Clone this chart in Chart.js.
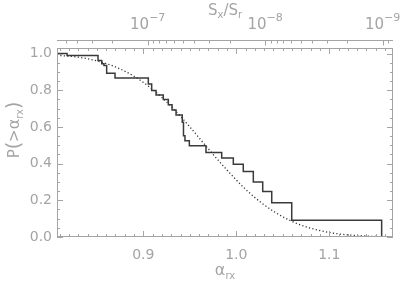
<!DOCTYPE html>
<html>
<head>
<meta charset="utf-8">
<script src="https://cdn.jsdelivr.net/npm/chart.js@4/dist/chart.umd.min.js"></script>
<style>
html, body { margin: 0; padding: 0; background: #fff; }
#wrap { width: 400px; height: 285px; }
</style>
</head>
<body>
<div id="wrap"><canvas id="cdf"></canvas></div>
<script>
// observed P(>alpha_rx): each level starts at its alpha and holds to the next one
var alphaObs = [0.8073, 0.818, 0.8513, 0.8553, 0.8577, 0.8606, 0.8696, 0.9054, 0.909, 0.9137,
                0.9215, 0.9269, 0.9309, 0.9352, 0.9419, 0.9432, 0.9448, 0.9495, 0.9674, 0.9843,
                0.9968, 1.0075, 1.0183, 1.0284, 1.0381, 1.0596, 1.1563];
var probObs = [1.0, 0.989, 0.962, 0.944, 0.934, 0.893, 0.867, 0.834, 0.798, 0.774,
               0.750, 0.721, 0.692, 0.665, 0.625, 0.552, 0.525, 0.497, 0.461, 0.430,
               0.397, 0.357, 0.300, 0.248, 0.186, 0.091, 0.0];

// dotted model curve
var alphaModel = [0.807, 0.83, 0.85, 0.87, 0.89, 0.91, 0.93, 0.95, 0.97, 0.99,
                  1.01, 1.03, 1.05, 1.07, 1.09, 1.11, 1.13, 1.15, 1.1685];
var probModel = [0.99, 0.98, 0.96, 0.927, 0.876, 0.804, 0.712, 0.6, 0.48, 0.365,
                 0.26, 0.175, 0.11, 0.064, 0.035, 0.017, 0.008, 0.003, 0.001];

// tick labels
var alphaTicks = [0.9, 1.0, 1.1];
var probTicks = [0, 0.2, 0.4, 0.6, 0.8, 1.0];
var ratioTicks = [1e-7, 1e-8, 1e-9];
var ratioExp = ['\u22127', '\u22128', '\u22129'];

var grey = '#a4a4a4';
var fam = 'DejaVu Sans';

function line(ctx, x1, y1, x2, y2) {
  ctx.beginPath();
  ctx.moveTo(x1, y1);
  ctx.lineTo(x2, y2);
  ctx.stroke();
}

// text made of pieces with sub/superscripts, centred on cx
function parts(ctx, list, cx, y) {
  var w = 0;
  list.forEach(function (p) {
    ctx.font = p[1] + 'px "' + fam + '"';
    w += ctx.measureText(p[0]).width;
  });
  var x = cx - w / 2;
  list.forEach(function (p) {
    ctx.font = p[1] + 'px "' + fam + '"';
    ctx.fillText(p[0], x, y + p[2]);
    x += ctx.measureText(p[0]).width;
  });
}

var frame = {
  id: 'frame',
  afterDraw: function (chart) {
    var ctx = chart.ctx, a = chart.chartArea;
    var sx = chart.scales.x, sy = chart.scales.y, s2 = chart.scales.x2;
    ctx.save();
    ctx.strokeStyle = grey;
    ctx.lineWidth = 1;
    ctx.strokeRect(a.left + 0.5, a.top + 0.5, a.right - a.left - 1, a.bottom - a.top - 1);

    // alpha ticks, bottom and top of the box
    for (var i = 81; i <= 116; i++) {
      var px = Math.round(sx.getPixelForValue(i / 100)) + 0.5;
      var len = i % 10 === 0 ? 6 : 3;
      line(ctx, px, a.bottom, px, a.bottom - len);
      line(ctx, px, a.top, px, a.top + len);
    }
    // probability ticks, left and right
    for (var j = 0; j <= 20; j++) {
      var py = Math.round(sy.getPixelForValue(j * 0.05)) + 0.5;
      var l2 = j % 4 === 0 ? 6 : 3;
      line(ctx, a.left, py, a.left + l2, py);
      line(ctx, a.right, py, a.right - l2, py);
    }

    // top axis: Sx/Sr
    var ty = a.top - 8 + 0.5;
    line(ctx, a.left, ty, a.right, ty);
    for (var e = -10; e <= -6; e++) {
      for (var k = 1; k <= 9; k++) {
        var v = k * Math.pow(10, e);
        if (v < s2.min || v > s2.max) continue;
        var qx = Math.round(s2.getPixelForValue(v)) + 0.5;
        line(ctx, qx, ty, qx, ty + (k === 1 ? 5 : 3));
      }
    }
    ctx.fillStyle = grey;
    ctx.textBaseline = 'alphabetic';
    ratioTicks.forEach(function (v, n) {
      parts(ctx, [['10', 15, 0], [ratioExp[n], 11, -8]], s2.getPixelForValue(v), 29);
    });

    var cx = (a.left + a.right) / 2;
    parts(ctx, [['S', 15, 0], ['x', 10, 3], ['/S', 15, 0], ['r', 10, 3]], cx, 15);
    parts(ctx, [['\u03b1', 16, 0], ['rx', 10, 4]], cx, 275);

    ctx.translate(19, 130);
    ctx.rotate(-Math.PI / 2);
    parts(ctx, [['P', 15, 0], ['(', 19, 1], ['>', 15, 0], ['\u03b1', 16, 0], ['rx', 10, 4], [')', 19, 1]], 0, 0);
    ctx.restore();
  }
};

var ctx = document.getElementById('cdf').getContext('2d');
var chart = new Chart(ctx, {
  type: 'line',
  data: {
    datasets: [{
      label: 'observed',
      data: alphaObs.map(function (v, i) { return { x: v, y: probObs[i] }; }),
      stepped: 'before',
      borderColor: '#3a3a3a',
      borderWidth: 1.5,
      pointRadius: 0,
      fill: false
    }, {
      label: 'model',
      data: alphaModel.map(function (v, i) { return { x: v, y: probModel[i] }; }),
      borderColor: '#333',
      borderWidth: 1.3,
      borderDash: [1.2, 2.3],
      cubicInterpolationMode: 'monotone',
      pointRadius: 0,
      fill: false
    }]
  },
  options: {
    responsive: true,
    maintainAspectRatio: false,
    animation: false,
    devicePixelRatio: 1,
    layout: { padding: { left: 0, right: 7, top: 0, bottom: 0 } },
    plugins: { legend: { display: false }, tooltip: { enabled: false } },
    scales: {
      x: {
        type: 'linear',
        position: 'bottom',
        min: 0.8072,
        max: 1.1685,
        afterBuildTicks: function (s) { s.ticks = alphaTicks.map(function (v) { return { value: v }; }); },
        afterFit: function (s) { s.height = 48; },
        ticks: {
          callback: function (v) { return v.toFixed(1); },
          color: grey, font: { family: fam, size: 14 }, padding: 10,
          maxRotation: 0, autoSkip: false
        },
        grid: { display: false, drawTicks: false },
        border: { display: false }
      },
      x2: {
        type: 'logarithmic',
        position: 'top',
        reverse: true,
        min: 8.166e-10,
        max: 5.916e-7,
        afterFit: function (s) { s.height = 48; },
        ticks: { display: false },
        grid: { display: false, drawTicks: false },
        border: { display: false }
      },
      y: {
        type: 'linear',
        min: 0,
        max: 1.03,
        afterBuildTicks: function (s) { s.ticks = probTicks.map(function (v) { return { value: v }; }); },
        afterFit: function (s) { s.width = 57; },
        ticks: {
          callback: function (v) { return v.toFixed(1); },
          color: grey, font: { family: fam, size: 14 }, padding: 5
        },
        grid: { display: false, drawTicks: false },
        border: { display: false }
      }
    }
  },
  plugins: [frame]
});
</script>
</body>
</html>
